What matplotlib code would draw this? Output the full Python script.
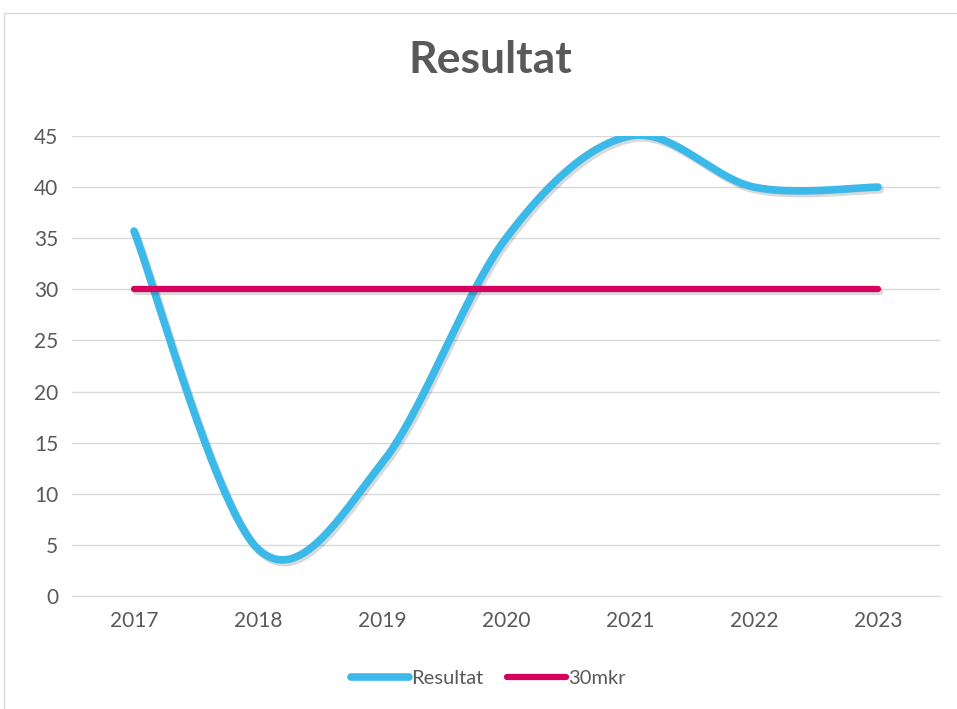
import numpy as np
import matplotlib.pyplot as plt
import matplotlib.patheffects as pe
from matplotlib.patches import Rectangle

plt.rcParams['font.family'] = ['Lato', 'DejaVu Sans']

years = [2017, 2018, 2019, 2020, 2021, 2022, 2023]
resultat = [35.7, 4.6, 13, 35, 45, 40, 40]
mal = [30, 30, 30, 30, 30, 30, 30]

blue = '#3BB9E8'
pink = '#D6005F'
grey = '#595959'


def smooth(xs, ys, n=60):
    # cardinal/bezier smoothing like spreadsheet "smoothed line"
    xs = np.asarray(xs, float)
    ys = np.asarray(ys, float)
    px = np.concatenate([[xs[0]], xs, [xs[-1]]])
    py = np.concatenate([[ys[0]], ys, [ys[-1]]])
    outx, outy = [], []
    t = np.linspace(0, 1, n)
    for i in range(1, len(px) - 2):
        p0 = np.array([px[i], py[i]])
        p3 = np.array([px[i + 1], py[i + 1]])
        p1 = p0 + (np.array([px[i + 1], py[i + 1]]) - np.array([px[i - 1], py[i - 1]])) / 6
        p2 = p3 - (np.array([px[i + 2], py[i + 2]]) - np.array([px[i], py[i]])) / 6
        b = ((1 - t) ** 3)[:, None] * p0 + (3 * (1 - t) ** 2 * t)[:, None] * p1 \
            + (3 * (1 - t) * t ** 2)[:, None] * p2 + (t ** 3)[:, None] * p3
        outx.append(b[:, 0])
        outy.append(b[:, 1])
    return np.concatenate(outx), np.concatenate(outy)


fig = plt.figure(figsize=(9.57, 7.09), dpi=100)
fig.patches.append(Rectangle((4 / 957, -0.1), 1.2, 1 - 13 / 709 + 0.1,
                             transform=fig.transFigure, fill=False,
                             edgecolor='#D9D9D9', linewidth=1))
ax = fig.add_axes([72 / 957, 1 - 596 / 709, 868 / 957, 460 / 709])

shadow = [pe.SimpleLineShadow(offset=(1.5, -2), shadow_color='black', alpha=0.15),
          pe.Normal()]

sx, sy = smooth(years, resultat)
ax.plot(sx, sy, color=blue, lw=5.5, solid_capstyle='round', label='Resultat',
        path_effects=shadow, zorder=3)
ax.plot(years, mal, color=pink, lw=4.5, solid_capstyle='round', label='30mkr',
        path_effects=shadow, zorder=4)

ax.set_xlim(2016.5, 2023.5)
ax.set_ylim(0, 45)
ax.set_yticks(range(0, 50, 5))
ax.set_xticks(years)
ax.grid(axis='y', color='#D9D9D9', lw=1)
ax.set_axisbelow(True)
for s in ['top', 'right', 'left']:
    ax.spines[s].set_visible(False)
ax.spines['bottom'].set_color('#D9D9D9')
ax.tick_params(length=0, labelsize=15, labelcolor=grey)
ax.tick_params(axis='x', pad=11)
ax.tick_params(axis='y', pad=10)

fig.text(0.512, 1 - 60 / 709, 'Resultat', ha='center', va='center',
         fontsize=32, fontweight='bold', color=grey)

leg = fig.legend(loc='center', bbox_to_anchor=(0.51, 1 - 678 / 709), ncol=2,
                 frameon=False, fontsize=14.5, handlelength=2.9, handletextpad=0.1,
                 columnspacing=1.2)
for t in leg.get_texts():
    t.set_color(grey)
for h in leg.get_lines():
    h.set_path_effects([pe.Normal()])

fig.savefig('out.png', dpi=100)
